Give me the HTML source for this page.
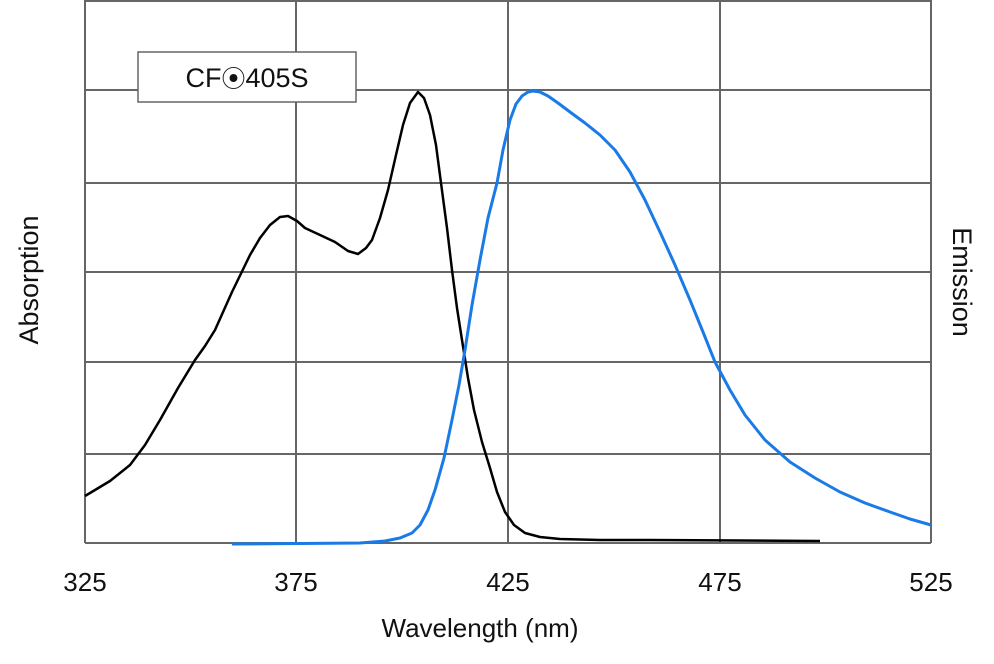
<!DOCTYPE html>
<html><head><meta charset="utf-8"><style>
html,body{margin:0;padding:0;background:#fff;}
svg{display:block;}
text{font-family:"Liberation Sans",sans-serif;fill:#111;}
</style></head><body>
<svg width="994" height="664" viewBox="0 0 994 664" xmlns="http://www.w3.org/2000/svg">
<g stroke="#666" stroke-width="2" fill="none">
<line x1="85" y1="1" x2="931" y2="1"/>
<line x1="85" y1="90" x2="931" y2="90"/>
<line x1="85" y1="183" x2="931" y2="183"/>
<line x1="85" y1="272" x2="931" y2="272"/>
<line x1="85" y1="362" x2="931" y2="362"/>
<line x1="85" y1="454" x2="931" y2="454"/>
<line x1="85" y1="543" x2="931" y2="543"/>
<line x1="85" y1="0" x2="85" y2="543"/>
<line x1="296" y1="0" x2="296" y2="543"/>
<line x1="508" y1="0" x2="508" y2="543"/>
<line x1="720" y1="0" x2="720" y2="543"/>
<line x1="931" y1="0" x2="931" y2="543"/>
</g>
<rect x="138" y="52" width="218" height="50" fill="#fff" stroke="#666" stroke-width="1.5"/>
<text x="247" y="87" font-size="27" text-anchor="middle">CF<tspan font-size="24">⦿</tspan>405S</text>
<polyline fill="none" stroke="#000" stroke-width="2.5" stroke-linejoin="round" points="85,496 110,481 130,465 145,445 160,420 178,388 195,360 205,346 215,330 232,292 250,255 260,238 270,225 280,217 288,216 297,221 305,228 320,235 335,242 348,251 358,254 366,248 372,240 380,218 388,190 396,155 403,125 410,103 418,92 424,98 430,115 436,145 441,183 447,228 452,270 457,308 462,340 468,378 474,410 482,442 490,468 497,492 505,512 514,525 525,533 540,537 560,539 600,540 650,540 820,541"/>
<polyline fill="none" stroke="#1a7ae6" stroke-width="3" stroke-linejoin="round" points="232,544 360,543 385,541 400,538 412,533 420,525 428,510 435,490 444,458 452,420 459,385 465,350 472,305 480,260 488,218 497,183 503,150 510,120 516,104 522,96 528,92 533,91 540,92 548,96 558,103 570,112 585,123 600,135 615,150 630,172 645,200 660,232 675,265 690,300 703,332 715,362 730,390 745,415 765,440 790,462 815,478 840,492 865,503 890,512 910,519 931,525"/>
<g font-size="26" text-anchor="middle">
<text x="85" y="591">325</text>
<text x="296" y="591">375</text>
<text x="508" y="591">425</text>
<text x="720" y="591">475</text>
<text x="931" y="591">525</text>
<text x="480" y="637">Wavelength (nm)</text>
<text transform="translate(38,280) rotate(-90)" font-size="27">Absorption</text>
<text transform="translate(953,282) rotate(90)" font-size="27">Emission</text>
</g>
</svg>
</body></html>
